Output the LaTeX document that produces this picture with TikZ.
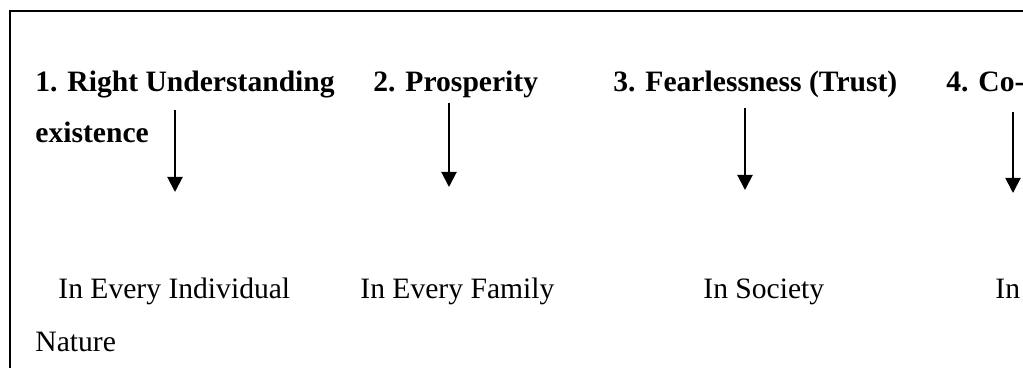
\documentclass[tikz,border=0pt]{standalone}
\usepackage{fontspec}
\setmainfont{Liberation Serif}
\usetikzlibrary{arrows.meta}

\begin{document}
\begin{tikzpicture}[x=0.5pt,y=-0.5pt,
    txt/.style={anchor=base west,inner sep=0pt,font=\fontsize{14.8}{17}\selectfont},
    head/.style={txt,font=\fontsize{14.8}{17}\selectfont\bfseries},
    arr/.style={line width=1pt,-{Triangle[length=7.5pt,width=7.5pt]}}]

    % page size and frame
    \useasboundingbox (0,0) rectangle (1023,368);
    \draw[line width=1pt] (10,368) -- (10,11) -- (1023,11);

    % headings
    \node[head] (h1) at (35,92) {1. Right Understanding};
    \node[head] (h2) at (373,92) {2. Prosperity};
    \node[head] (h3) at (613,92) {3. Fearlessness (Trust)};
    \node[head] (h4) at (946,92) {4. Co-};
    \node[head] (h4b) at (35,143) {existence};

    % where it applies
    \node[txt] (p1) at (58,299) {In Every Individual};
    \node[txt] (p2) at (360,299) {In Every Family};
    \node[txt] (p3) at (703,299) {In Society};
    \node[txt] (p4) at (995,299) {In};
    \node[txt] (p4b) at (35,352) {Nature};

    % arrows
    \coordinate (s1) at (175,110);
    \coordinate (e1) at (175,192);
    \coordinate (s2) at (449,103);
    \coordinate (e2) at (449,187);
    \coordinate (s3) at (745,108);
    \coordinate (e3) at (745,190);
    \coordinate (s4) at (1013,112);
    \coordinate (e4) at (1013,193);
    \draw[arr] (s1) -- (e1);
    \draw[arr] (s2) -- (e2);
    \draw[arr] (s3) -- (e3);
    \draw[arr] (s4) -- (e4);

\end{tikzpicture}
\end{document}
